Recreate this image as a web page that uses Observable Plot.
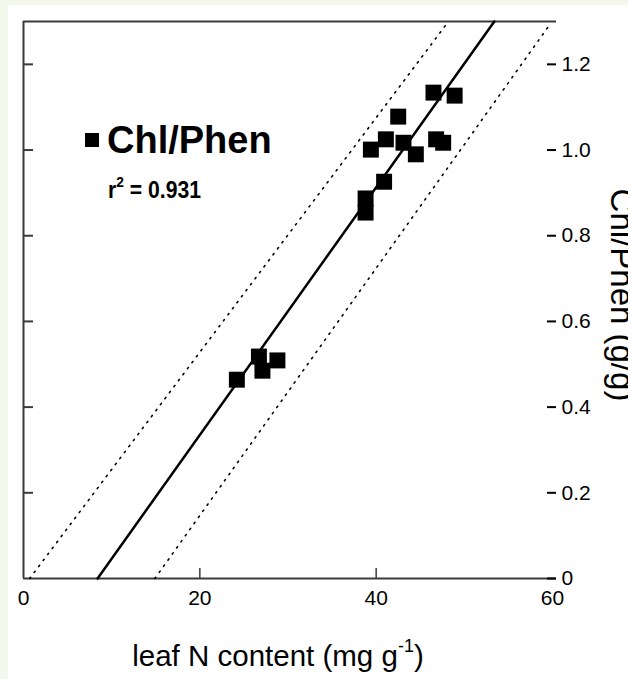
<!DOCTYPE html>
<html>
<head>
<meta charset="utf-8">
<script src="https://cdn.jsdelivr.net/npm/d3@7"></script>
<script src="https://cdn.jsdelivr.net/npm/@observablehq/plot@0.6"></script>
<style>
  html, body { margin: 0; padding: 0; background: #f3f8ec; }
  #chart { position: absolute; left: 8px; top: 5px; width: 620px; height: 674px; background: #fff; overflow: hidden; }
  #chart svg { display: block; overflow: visible; }
  #chart svg g[aria-label$="tick label"] { font-size: 21px; }
</style>
</head>
<body>
<div id="chart"></div>
<script>
// Leaf nitrogen content (mg g-1) and chlorophyll/phenolics ratio (g/g)
const leafN   = [24.2, 26.7, 27.1, 28.8, 38.8, 38.8, 39.4, 40.9, 41.1, 42.5, 43.1, 44.5, 46.5, 46.8, 47.6, 48.9];
const chlPhen = [0.464, 0.518, 0.485, 0.509, 0.887, 0.854, 1.001, 0.926, 1.025, 1.078, 1.017, 0.990, 1.134, 1.025, 1.017, 1.127];

// Linear fit and its prediction band, as end points
const fitX = [8.4, 53.4];
const fitY = [0, 1.3];
const upperBandX = [0.7, 48.2];
const upperBandY = [0, 1.3];
const lowerBandX = [14.9, 59.6];
const lowerBandY = [0, 1.29];

const xTicks = [0, 20, 40, 60];
const xInnerTicks = [20, 40];
const yTicks = [0, 0.2, 0.4, 0.6, 0.8, 1.0, 1.2];

const seriesName = "Chl/Phen";
const r2Text = "= 0.931";
const xTitle = "leaf N content (mg g";
const yTitle = "Chl/Phen (g/g)";

const points = leafN.map((x, i) => ({x, y: chlPhen[i]}));
const toLine = (xs, ys) => xs.map((x, i) => ({x, y: ys[i]}));

const font = "'Liberation Sans', Arial, sans-serif";
const axisColor = "#3a3a3a";

const plot = Plot.plot({
  width: 620,
  height: 674,
  marginLeft: 15,
  marginRight: 76,
  marginTop: 16,
  marginBottom: 101,
  x: {domain: [0, 60]},
  y: {domain: [0, 1.3]},
  style: {fontFamily: font, fontSize: "21px", color: "#000", background: "transparent", overflow: "visible"},
  marks: [
    // frame: left, bottom and top edges
    Plot.ruleX([0], {stroke: axisColor, strokeWidth: 2}),
    Plot.ruleY([0, 1.3], {x1: 0, x2: 60, insetRight: -4, stroke: axisColor, strokeWidth: 2}),
    // inward ticks on the left edge
    Plot.axisY(yTicks.filter(v => v > 0), {anchor: "left", tickSize: 10, dx: 10, tickFormat: () => "", label: null, strokeWidth: 2, stroke: axisColor}),
    // right axis with labels
    Plot.axisY(yTicks, {anchor: "right", tickSize: 9, tickPadding: 6, dx: -6, strokeWidth: 2,
      tickFormat: d => d === 0 ? "0" : d3.format(".1f")(d), label: null, fontSize: 21}),
    // inward ticks on the bottom edge
    Plot.axisX(xInnerTicks, {anchor: "bottom", tickSize: 10, dy: -10, tickFormat: () => "", label: null, strokeWidth: 1.5, stroke: axisColor}),
    Plot.axisX(xTicks, {anchor: "bottom", tickSize: 0, tickPadding: 12, label: null, fontSize: 21}),
    // prediction band
    Plot.line(toLine(upperBandX, upperBandY), {x: "x", y: "y", stroke: "#000", strokeWidth: 1.6, strokeDasharray: "1.5,6"}),
    Plot.line(toLine(lowerBandX, lowerBandY), {x: "x", y: "y", stroke: "#000", strokeWidth: 1.6, strokeDasharray: "1.5,6"}),
    // regression line
    Plot.line(toLine(fitX, fitY), {x: "x", y: "y", stroke: "#000", strokeWidth: 2.5}),
    // observations
    Plot.dot(points, {x: "x", y: "y", symbol: "square", r: 9, fill: "#000", stroke: "none"})
  ]
});

document.getElementById("chart").appendChild(plot);
const svg = d3.select(plot);

// legend
svg.append("rect").attr("x", 77).attr("y", 128).attr("width", 14).attr("height", 14).attr("fill", "#000");
svg.append("text").attr("x", 99).attr("y", 148).attr("text-anchor", "start")
  .attr("font-family", font).attr("font-size", 38).attr("font-weight", "bold").text(seriesName);
const r2 = svg.append("text").attr("transform", "translate(100,193) scale(0.92,1)").attr("text-anchor", "start")
  .attr("font-family", font).attr("font-size", 23).attr("font-weight", "bold");
r2.append("tspan").text("r");
r2.append("tspan").attr("font-size", 15).attr("dy", -11).text("2");
r2.append("tspan").attr("dy", 11).text(" " + r2Text);

// x axis title
const xt = svg.append("text").attr("x", 270).attr("y", 661).attr("text-anchor", "middle")
  .attr("font-family", font).attr("font-size", 29.5);
xt.append("tspan").text(xTitle);
xt.append("tspan").attr("font-size", 18).attr("dy", -14).text("-1");
xt.append("tspan").attr("dy", 14).text(")");

// y axis title, rotated, on the right
svg.append("text").attr("transform", "translate(603,290) rotate(90)").attr("text-anchor", "middle")
  .attr("font-family", font).attr("font-size", 33).text(yTitle);
</script>
</body>
</html>
